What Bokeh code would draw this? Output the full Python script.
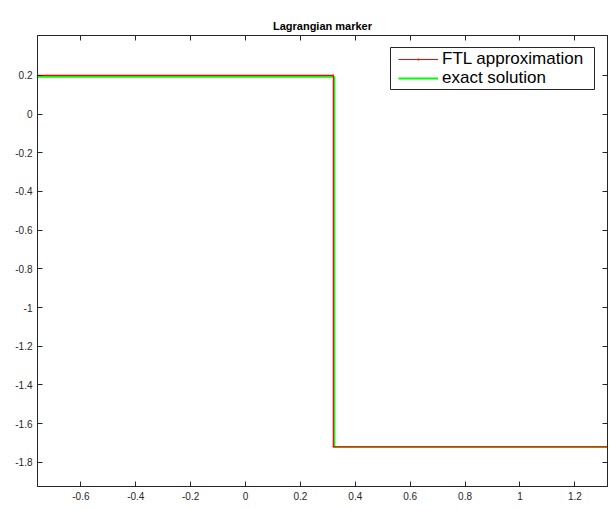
from bokeh.plotting import figure
from bokeh.models import Range1d, LinearAxis, FixedTicker, Legend, LegendItem, BoxAnnotation
from bokeh.embed import file_html
from bokeh.resources import INLINE

# data
ftl_x = [-0.758, 0.32, 0.32, 1.319]
ftl_y = [0.2, 0.2, -1.72, -1.72]
exact_x = [-0.758, 0.324, 0.324, 1.319]
exact_y = [0.192, 0.192, -1.72, -1.72]

x_ticks = [-0.6, -0.4, -0.2, 0, 0.2, 0.4, 0.6, 0.8, 1, 1.2]
x_labels = ["-0.6", "-0.4", "-0.2", "0", "0.2", "0.4", "0.6", "0.8", "1", "1.2"]
y_ticks = [-1.8, -1.6, -1.4, -1.2, -1, -0.8, -0.6, -0.4, -0.2, 0, 0.2]
y_labels = ["-1.8", "-1.6", "-1.4", "-1.2", "-1", "-0.8", "-0.6", "-0.4", "-0.2", "0", "0.2"]

AX = "#262626"
FONT = "Liberation Sans"

p = figure(width=609, height=508, output_backend="svg", toolbar_location=None,
           x_range=Range1d(-0.758, 1.319), y_range=Range1d(-1.925, 0.406),
           min_border_left=37, min_border_right=2, min_border_top=35, min_border_bottom=22)
p.title.text = "Lagrangian marker"
p.title.align = "center"
p.title.text_font = FONT
p.title.text_font_size = "11px"
p.title.text_font_style = "bold"
p.title.text_color = "black"
p.title.standoff = 7

p.grid.visible = False
p.outline_line_color = AX
p.outline_line_width = 1
p.background_fill_color = "white"
p.border_fill_color = "white"

def style_axis(ax, ticks, labels, show_labels=True):
    ax.ticker = FixedTicker(ticks=ticks)
    if show_labels:
        ax.major_label_overrides = {t: l for t, l in zip(ticks, labels)}
    else:
        ax.major_label_overrides = {t: "" for t in ticks}
    ax.major_tick_in = 5
    ax.major_tick_out = 0
    ax.minor_tick_in = 0
    ax.minor_tick_out = 0
    ax.axis_line_color = AX
    ax.major_tick_line_color = AX
    ax.major_label_text_font = FONT
    ax.major_label_text_font_size = "10px"
    ax.major_label_text_color = AX
    ax.major_label_standoff = 5 if show_labels else 0

style_axis(p.xaxis[0], x_ticks, x_labels)
style_axis(p.yaxis[0], y_ticks, y_labels)

top = LinearAxis()
style_axis(top, x_ticks, x_labels, show_labels=False)
p.add_layout(top, "above")
right = LinearAxis()
style_axis(right, y_ticks, y_labels, show_labels=False)
p.add_layout(right, "right")

g = p.line(exact_x, exact_y, line_color="#00ff00", line_width=1.8)
r = p.line(ftl_x, ftl_y, line_color="#ff0000", line_width=1.2)
rs = p.scatter(ftl_x, ftl_y, marker="dot", size=6, color="#ff0000")

# legend frame (canvas pixels)
box = BoxAnnotation(left=390, right=594, top=47, bottom=89,
                    left_units="canvas", right_units="canvas",
                    top_units="canvas", bottom_units="canvas",
                    fill_color="white", fill_alpha=1,
                    line_color=AX, line_alpha=1, line_width=1)
p.add_layout(box)

def make_legend(label, renderers, loc):
    lg = Legend(items=[LegendItem(label=label, renderers=renderers)], location=loc)
    lg.margin = 0
    lg.padding = 0
    lg.spacing = 0
    lg.label_text_font = FONT
    lg.label_text_font_size = "17px"
    lg.label_text_color = "black"
    lg.label_height = 22
    lg.glyph_height = 22
    lg.glyph_width = 40
    lg.label_standoff = 4
    lg.border_line_alpha = 0
    lg.background_fill_alpha = 0
    return lg

p.add_layout(make_legend("FTL approximation", [r, rs], (361, 416)), "center")
p.add_layout(make_legend("exact solution", [g], (361, 397)), "center")

open("out.html", "w").write(file_html(p, INLINE))
